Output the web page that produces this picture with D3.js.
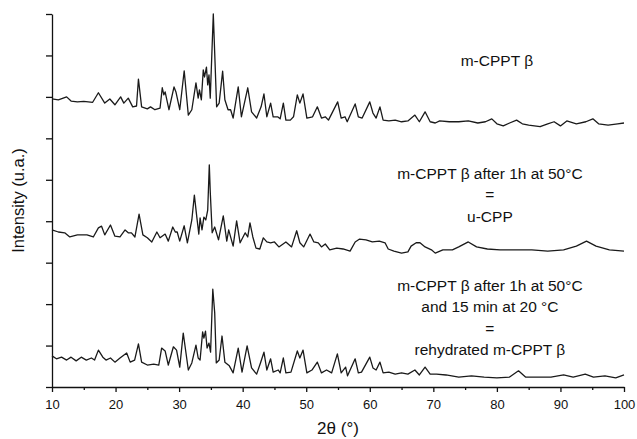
<!DOCTYPE html>
<html>
<head>
<meta charset="utf-8">
<script src="https://cdn.jsdelivr.net/npm/d3@7"></script>
<style>
  body { margin: 0; background: #fff; }
  text { font-family: "Liberation Sans", Arial, sans-serif; fill: #111; }
</style>
</head>
<body>
<div id="xrdChart"></div>
<script>
// diffraction patterns: [2theta, intensity]
var betaPattern = [
  [10.0,0.95],[11.0,0.93],[12.3,1.00],[13.0,0.90],[14.0,0.88],[15.0,0.89],[16.4,0.87],[17.3,1.10],
  [18.3,0.85],[19.1,0.95],[19.9,0.81],[20.8,1.00],[21.3,0.85],[22.0,0.97],[22.7,0.76],[23.3,0.78],
  [23.6,1.43],[24.1,0.76],[25.0,0.71],[25.5,0.76],[26.2,0.69],[27.0,0.73],[27.35,1.22],[27.6,1.05],
  [27.8,1.12],[28.4,0.69],[29.2,1.24],[29.5,1.12],[30.1,0.69],[30.8,1.63],[31.45,0.56],[32.0,0.69],
  [32.65,1.34],[33.0,0.97],[33.2,1.17],[33.5,0.93],[33.8,1.65],[34.0,1.48],[34.3,1.72],[34.5,1.29],
  [34.7,1.53],[34.9,0.97],[35.38,3.00],[35.6,2.06],[35.9,0.76],[36.3,0.85],[36.85,1.62],[37.2,0.93],
  [37.7,0.69],[38.1,0.69],[38.5,0.49],[39.3,1.24],[39.8,0.52],[40.8,1.22],[41.4,0.64],[42.2,0.49],
  [42.9,0.76],[43.35,1.07],[43.8,0.52],[44.4,0.85],[44.8,0.52],[45.5,0.52],[45.9,0.47],[46.4,0.85],
  [46.8,0.44],[47.5,0.44],[48.0,0.52],[48.6,1.05],[49.0,0.85],[49.5,1.07],[50.1,0.49],[51.0,0.52],
  [51.75,0.76],[52.4,0.49],[53.0,0.52],[53.5,0.44],[54.95,0.88],[55.5,0.49],[56.1,0.52],[56.45,0.40],
  [57.7,0.83],[58.2,0.52],[58.8,0.49],[60.0,0.88],[60.5,0.61],[61.0,0.49],[61.6,0.76],[62.1,0.44],
  [63.0,0.42],[64.0,0.44],[65.0,0.40],[66.0,0.42],[67.1,0.56],[67.8,0.40],[68.7,0.64],[69.5,0.40],
  [70.3,0.37],[71.0,0.42],[72.5,0.40],[74.0,0.40],[75.5,0.42],[77.0,0.37],[78.2,0.40],[79.2,0.47],
  [80.0,0.35],[81.0,0.30],[82.0,0.37],[83.1,0.44],[84.0,0.35],[85.0,0.32],[86.8,0.28],[88.0,0.35],
  [89.0,0.40],[90.0,0.30],[91.0,0.42],[92.5,0.35],[94.0,0.40],[95.1,0.47],[96.0,0.35],[97.5,0.32],
  [99.0,0.35],[100.0,0.37]
];

var heatedPattern = [
  [10.0,0.79],[11.0,0.74],[12.0,0.72],[12.8,0.62],[14.0,0.67],[15.5,0.67],[16.5,0.62],[17.3,0.84],
  [17.8,0.88],[18.3,0.67],[19.2,0.91],[19.9,0.64],[20.7,0.62],[21.5,0.79],[22.0,0.72],[22.5,0.72],
  [23.05,0.62],[23.7,1.17],[24.3,0.67],[25.0,0.60],[25.7,0.50],[26.5,0.74],[27.0,0.60],[27.8,0.69],
  [28.3,0.52],[29.0,0.86],[29.4,0.74],[29.7,0.74],[30.1,0.52],[30.8,0.89],[31.3,0.48],[32.0,1.03],
  [32.4,1.63],[32.8,1.08],[33.1,0.69],[33.3,1.08],[33.6,0.79],[33.9,1.10],[34.2,1.03],[34.5,1.27],
  [34.75,2.36],[34.9,1.71],[35.2,0.72],[35.6,0.86],[36.2,0.55],[36.95,1.13],[37.5,0.52],[37.8,0.79],
  [38.5,0.40],[39.05,1.01],[39.6,0.48],[40.4,0.72],[40.8,0.62],[41.15,0.96],[41.6,0.62],[42.1,0.35],
  [42.7,0.33],[43.25,0.60],[43.8,0.50],[44.4,0.48],[45.0,0.50],[45.7,0.38],[46.8,0.50],[47.7,0.38],
  [48.5,0.77],[49.0,0.48],[49.6,0.38],[50.6,0.69],[51.2,0.50],[51.9,0.48],[52.4,0.38],[53.0,0.45],
  [53.7,0.31],[54.8,0.35],[55.8,0.33],[56.9,0.28],[57.7,0.50],[58.4,0.57],[59.4,0.55],[60.4,0.50],
  [61.5,0.52],[62.4,0.48],[62.9,0.33],[63.8,0.28],[65.0,0.23],[66.0,0.26],[66.5,0.40],[67.3,0.48],
  [67.9,0.48],[68.7,0.38],[69.7,0.31],[70.3,0.23],[71.5,0.31],[73.0,0.31],[74.0,0.38],[75.5,0.50],
  [76.8,0.38],[78.5,0.33],[80.5,0.31],[83.5,0.31],[85.5,0.31],[88.0,0.28],[90.5,0.31],[92.5,0.40],
  [94.1,0.52],[95.6,0.40],[97.7,0.31],[100.0,0.28]
];

var rehydratedPattern = [
  [10.0,0.75],[10.7,0.68],[11.5,0.72],[12.3,0.65],[13.0,0.72],[13.8,0.63],[14.6,0.72],[15.4,0.65],
  [16.2,0.70],[16.7,0.65],[17.3,0.89],[18.0,0.72],[18.5,0.65],[19.2,0.70],[19.9,0.60],[20.7,0.70],
  [21.75,0.82],[22.3,0.60],[23.0,0.65],[23.6,1.04],[24.1,0.60],[25.0,0.53],[26.0,0.55],[26.8,0.53],
  [27.25,0.94],[27.8,0.87],[28.3,0.53],[29.1,0.97],[29.6,0.89],[30.1,0.48],[30.65,1.30],[31.45,0.41],
  [32.0,0.58],[32.65,1.01],[33.0,0.70],[33.3,0.65],[33.7,1.33],[33.9,1.18],[34.15,1.35],[34.4,0.94],
  [34.7,1.06],[34.95,0.84],[35.3,2.36],[35.6,1.79],[35.85,0.58],[36.3,0.65],[36.75,1.23],[37.2,0.60],
  [37.9,0.51],[38.5,0.34],[39.3,0.94],[39.9,0.36],[40.7,0.99],[41.4,0.46],[42.2,0.31],[42.8,0.58],
  [43.35,0.84],[43.8,0.41],[44.4,0.68],[44.8,0.36],[45.6,0.41],[45.9,0.34],[46.4,0.70],[46.8,0.34],
  [47.6,0.36],[48.6,0.87],[49.0,0.70],[49.5,0.89],[50.1,0.34],[50.9,0.41],[51.75,0.60],[52.4,0.34],
  [53.2,0.41],[54.0,0.34],[54.9,0.80],[55.5,0.34],[56.2,0.48],[56.5,0.27],[57.7,0.68],[58.2,0.34],
  [58.7,0.36],[60.0,0.72],[60.5,0.46],[61.0,0.41],[61.6,0.60],[62.1,0.34],[63.0,0.36],[64.0,0.31],
  [65.0,0.34],[66.0,0.31],[67.1,0.41],[67.8,0.29],[68.7,0.48],[69.5,0.31],[70.5,0.31],[72.0,0.29],
  [74.0,0.24],[76.0,0.27],[78.0,0.24],[80.0,0.22],[82.0,0.24],[83.4,0.39],[84.5,0.24],[86.5,0.24],
  [88.5,0.24],[90.5,0.29],[92.0,0.24],[93.9,0.31],[95.2,0.24],[97.0,0.27],[98.7,0.22],[100.0,0.29]
];

// vertical stacking offsets for the three patterns (same units as intensity)
var offsets = [6, 3, 0];

var labelTexts = [
  ["m-CPPT \u03b2"],
  ["m-CPPT \u03b2 after 1h at 50\u00b0C", "=", "u-CPP"],
  ["m-CPPT \u03b2 after 1h at 50\u00b0C", "and 15 min at 20 \u00b0C", "=", "rehydrated m-CPPT \u03b2"]
];
var labelAt = [[80.0, 7.75], [78.9, 5.02], [78.9, 2.32]]; // [2theta, intensity] of first baseline

var xMajor = [10, 20, 30, 40, 50, 60, 70, 80, 90, 100];
var xMinor = [15, 25, 35, 45, 55, 65, 75, 85, 95];
var yTicks = [0, 1, 2, 3, 4, 5, 6, 7, 8, 9];

// set the dimensions and margins of the graph
var margin = {top: 14, right: 13, bottom: 52, left: 52},
    width = 637 - margin.left - margin.right,
    height = 439 - margin.top - margin.bottom;

var svg = d3.select("#xrdChart")
    .append("svg")
    .attr("width", 637)
    .attr("height", 439)
    .append("g")
    .attr("transform", "translate(" + margin.left + "," + margin.top + ")");

var x = d3.scaleLinear()
    .domain([10, 100])
    .range([0, width]);

var y = d3.scaleLinear()
    .domain([0, 9])
    .range([height, 0]);

// x axis, major ticks with labels
var xAxis = svg.append("g")
    .attr("transform", "translate(0," + height + ")")
    .call(d3.axisBottom(x).tickValues(xMajor).tickSize(5).tickSizeOuter(0).tickPadding(8));
xAxis.selectAll("text").style("font-size", "13px");

// minor ticks
svg.append("g")
    .attr("transform", "translate(0," + height + ")")
    .call(d3.axisBottom(x).tickValues(xMinor).tickSize(3).tickFormat(""))
    .select(".domain").remove();

// y axis, ticks only
svg.append("g")
    .call(d3.axisLeft(y).tickValues(yTicks).tickSize(6).tickSizeOuter(0).tickFormat(""));

svg.selectAll(".domain, .tick line")
    .attr("stroke", "#111")
    .attr("stroke-width", 1.3);

// the patterns
var line = d3.line()
    .x(function(d) { return x(d[0]); })
    .y(function(d) { return y(d[1]); });

var patterns = [betaPattern, heatedPattern, rehydratedPattern];
patterns.forEach(function(p, i) {
    var shifted = p.map(function(d) { return [d[0], d[1] + offsets[i]]; });
    svg.append("path")
        .datum(shifted)
        .attr("fill", "none")
        .attr("stroke", "#1a1a1a")
        .attr("stroke-width", 1.3)
        .attr("stroke-linejoin", "round")
        .attr("d", line);
});

// sample labels
labelTexts.forEach(function(lines, i) {
    svg.append("g")
        .selectAll("text")
        .data(lines)
        .enter()
        .append("text")
        .attr("x", x(labelAt[i][0]))
        .attr("y", function(d, j) { return y(labelAt[i][1]) + j * 21.5; })
        .attr("text-anchor", "middle")
        .style("font-size", "15.5px")
        .text(function(d) { return d; });
});

// axis titles
svg.append("text")
    .attr("transform", "rotate(-90)")
    .attr("x", -height / 2)
    .attr("y", -margin.left + 24)
    .attr("text-anchor", "middle")
    .style("font-size", "16.5px")
    .text("Intensity (u.a.)");

svg.append("text")
    .attr("x", width / 2)
    .attr("y", height + 47)
    .attr("text-anchor", "middle")
    .style("font-size", "17px")
    .text("2\u03b8 (\u00b0)");
</script>
</body>
</html>
